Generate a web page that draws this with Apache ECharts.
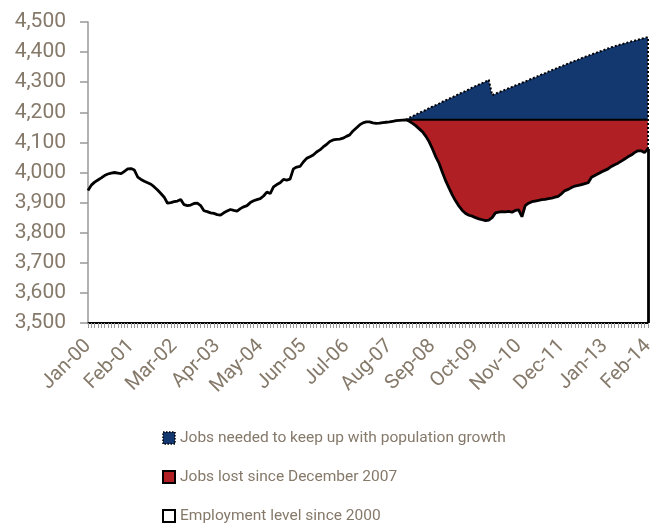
<!DOCTYPE html>
<html>
<head>
<meta charset="utf-8">
<script src="https://cdn.jsdelivr.net/npm/echarts@6/dist/echarts.min.js"></script>
<style>html,body{margin:0;padding:0;background:#fff;}#c{width:657px;height:526px;}</style>
</head>
<body>
<div id="c"></div>
<script>
// Month categories Jan-00 .. Feb-14
var monthNames = ['Jan','Feb','Mar','Apr','May','Jun','Jul','Aug','Sep','Oct','Nov','Dec'];
var categories = [];
for (var y = 0; y <= 14; y++) {
  for (var m = 0; m < 12; m++) {
    if (y === 14 && m > 1) break;
    categories.push(monthNames[m] + '-' + (y < 10 ? '0' + y : '' + y));
  }
}

// Employment level since 2000 (thousands)
var employment = [
  3940,3958,3968,3975,3982,3990,3995,3998,4000,3998,3996,4004,
  4012,4013,4008,3985,3977,3971,3966,3961,3952,3942,3930,3918,
  3898,3900,3903,3905,3910,3893,3890,3892,3897,3898,3890,3873,
  3870,3866,3864,3860,3858,3866,3872,3877,3874,3872,3880,3886,
  3890,3900,3906,3910,3913,3922,3935,3930,3952,3960,3966,3977,
  3975,3978,4012,4018,4020,4035,4047,4052,4058,4068,4075,4085,
  4093,4103,4108,4110,4111,4114,4120,4125,4138,4148,4158,4165,
  4168,4168,4165,4163,4164,4166,4167,4168,4170,4172,4173,4174,
  4175,4170,4163,4155,4145,4135,4120,4102,4078,4052,4030,4000,
  3972,3948,3925,3905,3888,3874,3864,3858,3855,3850,3846,3843,
  3840,3842,3850,3866,3868,3870,3869,3871,3868,3874,3876,3853,
  3890,3898,3903,3905,3907,3910,3911,3913,3915,3918,3921,3930,
  3940,3944,3950,3955,3957,3960,3963,3966,3984,3990,3996,4002,
  4007,4012,4020,4026,4031,4038,4045,4052,4058,4066,4072,4072,
  4066,4078
];

// Employment level needed to keep up with population growth (from Jan-08)
var startIndex = 96;
var neededLevel = [
  4175,4182,4187,4193,4198,4203,4208,4214,4219,4224,4229,4235,
  4240,4245,4250,4255,4261,4266,4271,4276,4282,4287,4292,4297,
  4302,4308,4257,4262,4266,4271,4275,4280,4284,4289,4293,4298,
  4302,4307,4312,4316,4321,4326,4330,4335,4340,4344,4349,4353,
  4358,4362,4367,4371,4375,4380,4384,4388,4392,4396,4400,4404,
  4408,4412,4416,4419,4423,4426,4429,4432,4435,4438,4441,4444,
  4447,4450
];

// Pre-recession peak level (December 2007)
var peakLevel = 4175;

var yTicks = { min: 3500, max: 4500, interval: 100 };

// Stack pieces built from the read values
var jobsLost = categories.map(function (c, i) {
  return i < startIndex ? null : peakLevel - employment[i];
});
var jobsNeeded = categories.map(function (c, i) {
  return i < startIndex ? null : neededLevel[i - startIndex] - peakLevel;
});

var names = ['Jobs needed to keep up with population growth', 'Jobs lost since December 2007', 'Employment level since 2000'];
var txt = '#85796a';
var font = 'Roboto';
var lastCat = categories[categories.length - 1];
var empLast = employment[employment.length - 1];
var needLast = neededLevel[neededLevel.length - 1];

var chart = echarts.init(document.getElementById('c'), null, { renderer: 'canvas' });
chart.setOption({
  animation: false,
  backgroundColor: '#fff',
  grid: { left: 88, right: 8, top: 22, bottom: 203, containLabel: false },
  legend: {
    orient: 'vertical',
    left: 162,
    top: 430,
    height: 120,
    padding: 0,
    itemGap: 23,
    itemWidth: 12,
    itemHeight: 12,
    textStyle: { color: txt, fontSize: 15.5, fontFamily: font, lineHeight: 16 },
    data: [
      { name: names[0], icon: 'rect', itemStyle: { color: '#12386f', borderColor: '#000', borderWidth: 1.5, borderType: 'dotted' } },
      { name: names[1], icon: 'rect', itemStyle: { color: '#b01f24', borderColor: '#000', borderWidth: 2 } },
      { name: names[2], icon: 'rect', itemStyle: { color: '#fff', borderColor: '#000', borderWidth: 2 } }
    ]
  },
  xAxis: {
    type: 'category',
    data: categories,
    boundaryGap: false,
    axisLine: { lineStyle: { color: '#000', width: 2 } },
    axisTick: { show: true, interval: 0, length: 5, lineStyle: { color: '#999', width: 1 } },
    axisLabel: { interval: 12, rotate: 45, color: txt, fontSize: 20, fontFamily: font, margin: 20 },
    splitLine: { show: false }
  },
  yAxis: {
    type: 'value',
    min: yTicks.min,
    max: yTicks.max,
    interval: yTicks.interval,
    axisLine: { show: true, lineStyle: { color: '#999', width: 1.5 } },
    axisTick: { show: true, length: 8, lineStyle: { color: '#999', width: 1.5 } },
    axisLabel: {
      color: txt, fontSize: 21, fontFamily: font, margin: 22,
      formatter: function (v) { return v.toLocaleString('en-US'); }
    },
    splitLine: { show: false }
  },
  series: [
    {
      name: names[2], type: 'line', stack: 'emp', data: employment,
      symbol: 'none', z: 5,
      lineStyle: { color: '#000', width: 2.8 },
      itemStyle: { color: '#fff', borderColor: '#000' },
      markLine: {
        silent: true, symbol: ['none', 'none'], label: { show: false },
        data: [
          [{ coord: [lastCat, yTicks.min], lineStyle: { color: '#000', width: 2.8, type: 'solid' } }, { coord: [lastCat, empLast] }],
          [{ coord: [lastCat, empLast], lineStyle: { color: '#000', width: 2, type: 'dotted' } }, { coord: [lastCat, needLast] }]
        ]
      }
    },
    {
      name: names[1], type: 'line', stack: 'emp', data: jobsLost,
      symbol: 'none', z: 3,
      lineStyle: { color: '#000', width: 2 },
      itemStyle: { color: '#b01f24' },
      areaStyle: { color: '#b01f24', opacity: 1 }
    },
    {
      name: names[0], type: 'line', stack: 'emp', data: jobsNeeded,
      symbol: 'none', z: 2,
      lineStyle: { color: '#000', width: 2, type: 'dotted' },
      itemStyle: { color: '#12386f' },
      areaStyle: { color: '#12386f', opacity: 1 }
    }
  ]
});
</script>
</body>
</html>
